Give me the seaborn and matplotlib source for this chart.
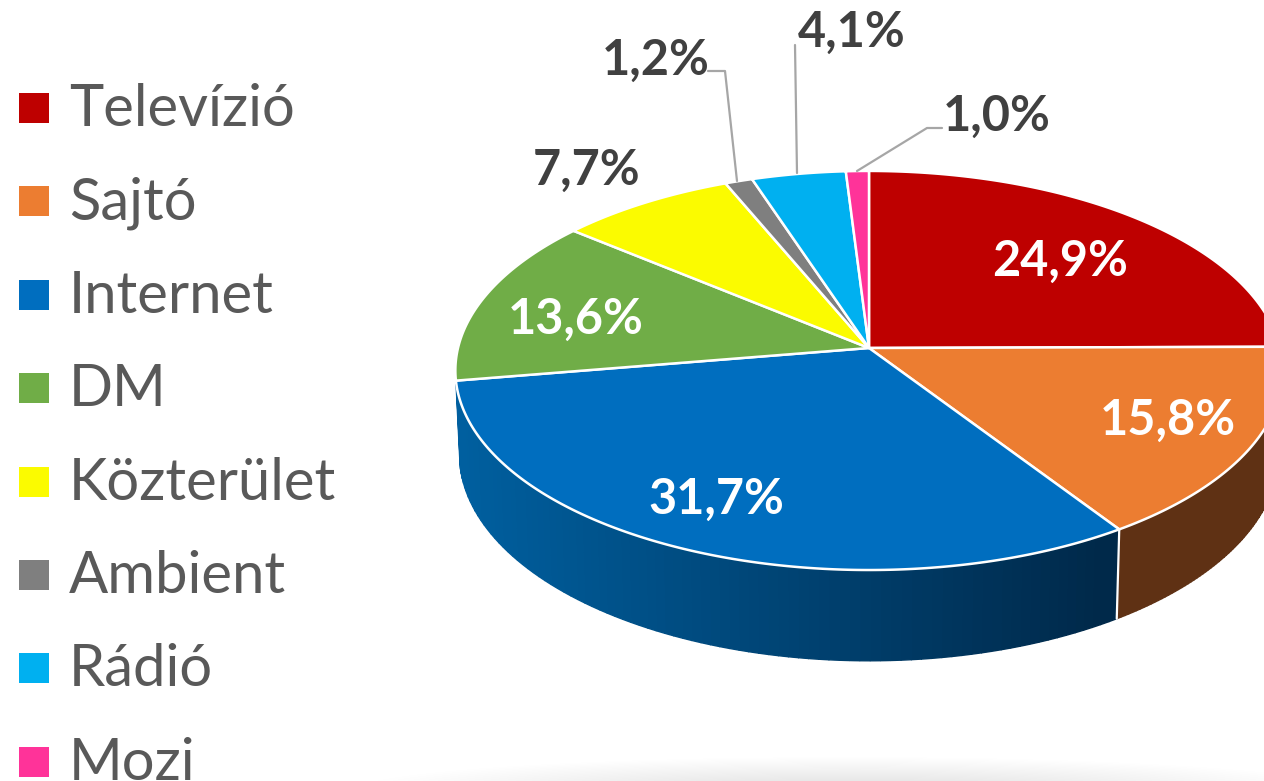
import numpy as np
import matplotlib
matplotlib.use("Agg")
import matplotlib.pyplot as plt
from matplotlib.patches import Ellipse
from matplotlib.colors import to_rgb
import seaborn as sns

categories = ["Televízió", "Sajtó", "Internet", "DM", "Közterület", "Ambient", "Rádió", "Mozi"]
values = [24.9, 15.8, 31.7, 13.6, 7.7, 1.2, 4.1, 1.0]
labels = ["24,9%", "15,8%", "31,7%", "13,6%", "7,7%", "1,2%", "4,1%", "1,0%"]
colors = ["#BE0000", "#EC7D31", "#006EBF", "#70AD47", "#FBFB00", "#7F7F7F", "#00B0F0", "#FF3399"]
side_left = ["#7A0000", "#5F3114", "#005F9F", "#44682B", "#999900", "#4C4C4C", "#006A90", "#991F5C"]
side_right = ["#7A0000", "#5F3114", "#00294A", "#44682B", "#999900", "#4C4C4C", "#006A90", "#991F5C"]
visible_side = ["Sajtó", "Internet"]
label_colors = ["white", "white", "white", "white", "#404040", "#404040", "#404040", "#404040"]
label_x = [1060, 1168, 716, 576, 587, 656, 852, 997]
label_y = [261, 420, 499, 319, 170, 60, 32, 116]
leader_x = [None, None, None, None, None, [708, 725, 737], [795, 797], [942, 927, 857]]
leader_y = [None, None, None, None, None, [71, 71, 181], [45, 173], [128, 128, 171]]

sns.set_theme(style="white")
plt.rcParams["font.family"] = ["Lato", "DejaVu Sans"]

fig = plt.figure(figsize=(12.64, 7.81), dpi=100)
ax = fig.add_axes([0, 0, 1, 1])
ax.set_xlim(0, 1264)
ax.set_ylim(781, 0)
ax.axis("off")

# faint shadow along the bottom edge
for w, h in zip(np.linspace(1000, 300, 26), np.linspace(70, 18, 26)):
    ax.add_patch(Ellipse((850, 792), w, h, fc="#000000", ec="none", alpha=0.004, zorder=0))

CX, CY, RX, RY, K = 869, 348, 411, 197, 0.1127
D, SX, SY = 83, 0.99, 1.035


def top(theta):
    x, y = np.sin(theta), np.cos(theta)
    w = 1 + K * y
    return CX + RX * x / w, CY - RY * y / w


def bottom(theta):
    x, y = np.sin(theta), np.cos(theta)
    w = 1 + K * y
    return CX + SX * RX * x / w, CY + D - SY * RY * y / w


frac = np.array(values) / np.sum(values)
edges = np.concatenate([[0], np.cumsum(frac)]) * 2 * np.pi

# side walls, split into thin strips to make the horizontal gradient
for i, name in enumerate(categories):
    if name not in visible_side:
        continue
    th = np.linspace(edges[i], edges[i + 1], 90)
    c0, c1 = np.array(to_rgb(side_left[i])), np.array(to_rgb(side_right[i]))
    for t0, t1 in zip(th[:-1], th[1:]):
        seg = np.linspace(t0, t1, 3)
        xt, yt = top(seg)
        xb, yb = bottom(seg)
        f = np.clip((xt.mean() - 460) / (1100 - 460), 0, 1)
        col = c0 + (c1 - c0) * f
        ax.fill(np.r_[xt, xb[::-1]], np.r_[yt, yb[::-1]], facecolor=col, edgecolor=col,
                lw=1.0, zorder=1)

# white seam between the two visible wall segments
seam = edges[categories.index("Internet")]
x0, y0 = top(seam)
x1, y1 = bottom(seam)
ax.plot([x0, x1], [y0, y1], color="white", lw=1.6, zorder=2)

# top faces
for i, c in enumerate(colors):
    th = np.linspace(edges[i], edges[i + 1], 200)
    x, y = top(th)
    ax.fill(np.r_[CX, x], np.r_[CY, y], facecolor=c, edgecolor="white", lw=1.8,
            joinstyle="round", zorder=3)

# leader lines
for lx, ly in zip(leader_x, leader_y):
    if lx is not None:
        ax.plot(lx, ly, color="#A6A6A6", lw=1.6, zorder=4)

# data labels
for s, x, y, c in zip(labels, label_x, label_y, label_colors):
    ax.text(x, y, s, color=c, fontsize=35, fontweight="bold", ha="center", va="center", zorder=5)

# legend
for i, (name, c) in enumerate(zip(categories, colors)):
    yc = 108 + 93.4 * i
    ax.fill([19, 49, 49, 19], [yc - 15, yc - 15, yc + 15, yc + 15], color=c, lw=0, zorder=5)
    ax.text(69, yc + 18, name, color="#595959", fontsize=41.8, ha="left", va="baseline", zorder=5)

fig.savefig("out.png", dpi=100)
